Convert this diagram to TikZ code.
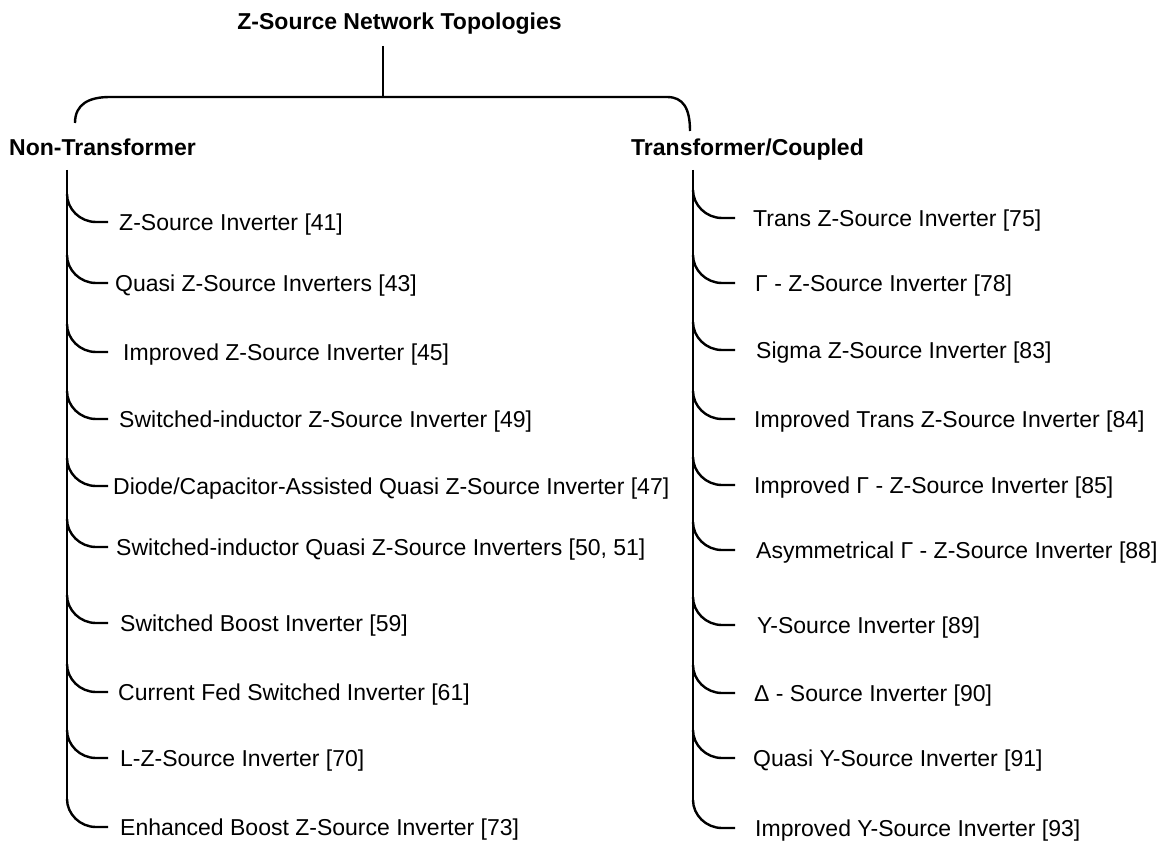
\documentclass[tikz,border=0pt]{standalone}
\usepackage{fontspec}
\setmainfont{Liberation Sans}
\begin{document}
\begin{tikzpicture}[x=1pt,y=-1pt,
  ln/.style={line width=2.4pt,black,line cap=butt},
  itemtxt/.style={inner sep=0pt,anchor=base west,font=\fontsize{23}{27}\selectfont},
  headtxt/.style={inner sep=0pt,font=\fontsize{23}{27}\selectfont\bfseries}]
\useasboundingbox (0,0) rectangle (1170,845);
\fill[white] (0,0) rectangle (1170,845);

% title and top bracket
\node[headtxt,anchor=base] (title) at (399.5,30) {Z-Source Network Topologies};
\coordinate (ttop) at (383,46);
\coordinate (tjoin) at (383,97);
\coordinate (bl) at (75,123);
\coordinate (br) at (690,131);
\draw[ln] (ttop) -- (tjoin);
\draw[ln] (bl) .. controls (75,104) and (89,97) .. (110,97) -- (tjoin)
  -- (667,97) .. controls (683,97) and (690,108) .. (br);

\node[headtxt,anchor=base west] (nt) at (9,156) {Non-Transformer};
\node[headtxt,anchor=base west] (tc) at (631,156) {Transformer/Coupled};

% left trunk
\coordinate (ltop) at (67,170);
\coordinate (lbot) at (67,800);
\draw[ln] (ltop) -- (lbot);
\foreach \r/\xx/\t [count=\i] in {
  222/119/{Z-Source Inverter [41]},
  283/115/{Quasi Z-Source Inverters [43]},
  352/123/{Improved Z-Source Inverter [45]},
  419/119/{Switched-inductor Z-Source Inverter [49]},
  486/113/{Diode/Capacitor-Assisted Quasi Z-Source Inverter [47]},
  547/116/{Switched-inductor Quasi Z-Source Inverters [50, 51]},
  623/120/{Switched Boost Inverter [59]},
  692/118/{Current Fed Switched Inverter [61]},
  758/120/{L-Z-Source Inverter [70]},
  827/120/{Enhanced Boost Z-Source Inverter [73]}} {
  \node[itemtxt] (l\i) at (\xx,\r+8) {\t};
  \coordinate (ls\i) at (67,\r-28);
  \coordinate (le\i) at (108,\r);
  \draw[ln] (ls\i) .. controls (67,\r-13) and (80,\r) .. (96,\r) -- (le\i);
}

% right trunk
\coordinate (rtop) at (693,170);
\coordinate (rbot) at (693,801);
\draw[ln] (rtop) -- (rbot);
\foreach \r/\xx/\t [count=\i] in {
  218/753/{Trans Z-Source Inverter [75]},
  283/755/{Γ - Z-Source Inverter [78]},
  350/756/{Sigma Z-Source Inverter [83]},
  419/754/{Improved Trans Z-Source Inverter [84]},
  485/754/{Improved Γ - Z-Source Inverter [85]},
  550/756/{Asymmetrical Γ - Z-Source Inverter [88]},
  625/757/{Y-Source Inverter [89]},
  693/754/{Δ - Source Inverter [90]},
  758/753/{Quasi Y-Source Inverter [91]},
  828/755/{Improved Y-Source Inverter [93]}} {
  \node[itemtxt] (r\i) at (\xx,\r+8) {\t};
  \coordinate (rs\i) at (693,\r-28);
  \coordinate (re\i) at (735,\r);
  \draw[ln] (rs\i) .. controls (693,\r-13) and (706,\r) .. (722,\r) -- (re\i);
}
\end{tikzpicture}
\end{document}
